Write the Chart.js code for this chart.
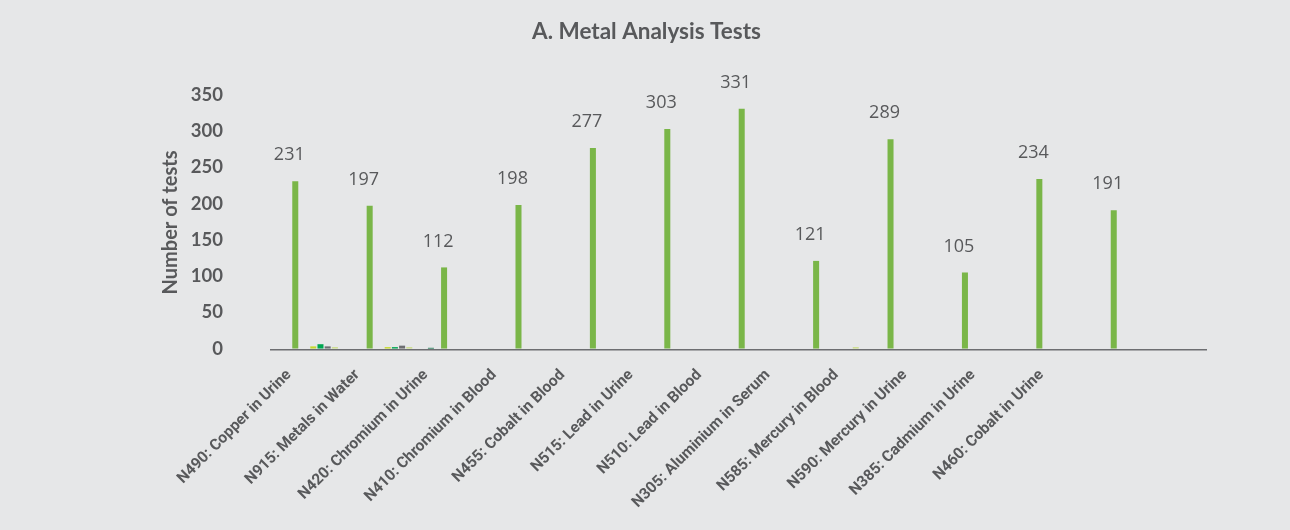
<!DOCTYPE html>
<html>
<head>
<meta charset="utf-8">
<script src="https://cdn.jsdelivr.net/npm/chart.js@4.4.0/dist/chart.umd.min.js"></script>
<style>
  html, body { margin: 0; padding: 0; background: #e6e7e8; }
</style>
</head>
<body>
<canvas id="metalChart" width="1290" height="530"></canvas>
<script>
const categories = [
    'N490: Copper in Urine', 'N915: Metals in Water', 'N420: Chromium in Urine',
    'N410: Chromium in Blood', 'N455: Cobalt in Blood', 'N515: Lead in Urine',
    'N510: Lead in Blood', 'N305: Aluminium in Serum', 'N585: Mercury in Blood',
    'N590: Mercury in Urine', 'N385: Cadmium in Urine', 'N460: Cobalt in Urine'
];
const yTicks = [0, 50, 100, 150, 200, 250, 300, 350];

// big green series (labelled) + the tiny series sitting near zero
const mainTests = [231, 197, 112, 198, 277, 303, 331, 121, 289, 105, 234, 191];
const smallA = [3, 2, 0, 0, 0, 0, 0, 0, 0, 0, 0, 0];
const smallB = [6, 2, 0, 0, 0, 0, 0, 0, 0, 0, 0, 0];
const smallC = [3, 4, 0, 0, 0, 0, 0, 0, 0, 0, 0, 0];
const smallD = [2, 2, 0, 0, 0, 0, 0, 2, 0, 0, 0, 0];
const smallE = [0, 1, 0, 0, 0, 0, 0, 0, 0, 0, 0, 0];

const TEXT = '#58595b';

// slot order inside each category group, null = empty series
const slots = [
    { data: mainTests, color: '#7ab648' },
    null, null, null, null,
    { data: smallA, color: '#c5d92d' },
    null,
    { data: smallB, color: '#00a651' },
    null,
    { data: smallC, color: '#6d6e71' },
    null,
    { data: smallD, color: '#cbdc8b' },
    null, null, null, null, null,
    { data: smallE, color: '#00693e' },
    null, null
];

const datasets = slots.map(s => s
    ? { data: s.data.map((v, i) => ({ x: i, y: v })), backgroundColor: s.color, xAxisID: 'x', borderWidth: 0 }
    : { data: [], xAxisID: 'x' });

// value labels over the green bars
const valueLabels = {
    id: 'valueLabels',
    afterDatasetsDraw(chart) {
        const ctx = chart.ctx;
        const meta = chart.getDatasetMeta(0);
        ctx.save();
        ctx.font = '18px "Open Sans"';
        ctx.fillStyle = TEXT;
        ctx.textAlign = 'center';
        ctx.textBaseline = 'middle';
        meta.data.forEach((bar, i) => ctx.fillText(mainTests[i], bar.x - 6, bar.y - 26));
        ctx.restore();
    }
};

new Chart(document.getElementById('metalChart'), {
    type: 'bar',
    data: { datasets },
    plugins: [valueLabels],
    options: {
        responsive: false,
        animation: false,
        devicePixelRatio: 1,
        categoryPercentage: 0.968,
        barPercentage: 1.67,
        layout: { padding: { left: 87, right: 84, top: 8, bottom: 0 } },
        plugins: {
            legend: { display: false },
            tooltip: { enabled: false },
            title: {
                display: true,
                text: 'A. Metal Analysis Tests',
                color: TEXT,
                font: { family: 'Lato', size: 22.5, weight: 'bold' },
                padding: { top: 10, bottom: 50 }
            }
        },
        scales: {
            x: {
                type: 'linear',
                display: false,
                min: -0.786,
                max: 11.78,
                offset: false
            },
            xl: {
                type: 'linear',
                axis: 'x',
                position: 'bottom',
                min: -0.263,
                max: 13.407,
                offset: false,
                grid: { display: false, drawTicks: false },
                border: { display: true, color: '#6d6e71', width: 1.5 },
                ticks: {
                    stepSize: 1,
                    includeBounds: false,
                    autoSkip: false,
                    minRotation: 45,
                    maxRotation: 45,
                    padding: 16,
                    color: TEXT,
                    font: { family: 'Roboto', size: 15.5, weight: 'bold' },
                    callback: v => categories[v] ?? ''
                },
                afterFit: s => { s.height = 180; }
            },
            y: {
                min: -2,
                max: 350,
                grid: { display: false },
                border: { display: false },
                afterBuildTicks: s => { s.ticks = yTicks.map(v => ({ value: v })); },
                ticks: {
                    padding: 40,
                    color: TEXT,
                    font: { family: 'Lato', size: 18.5, weight: 'bold' }
                },
                title: {
                    display: true,
                    text: 'Number of tests',
                    color: TEXT,
                    font: { family: 'Lato', size: 20, weight: 'bold' },
                    padding: { top: 72, bottom: 0 }
                },
                afterFit: s => { s.width = 184; }
            }
        }
    }
});
</script>
</body>
</html>
